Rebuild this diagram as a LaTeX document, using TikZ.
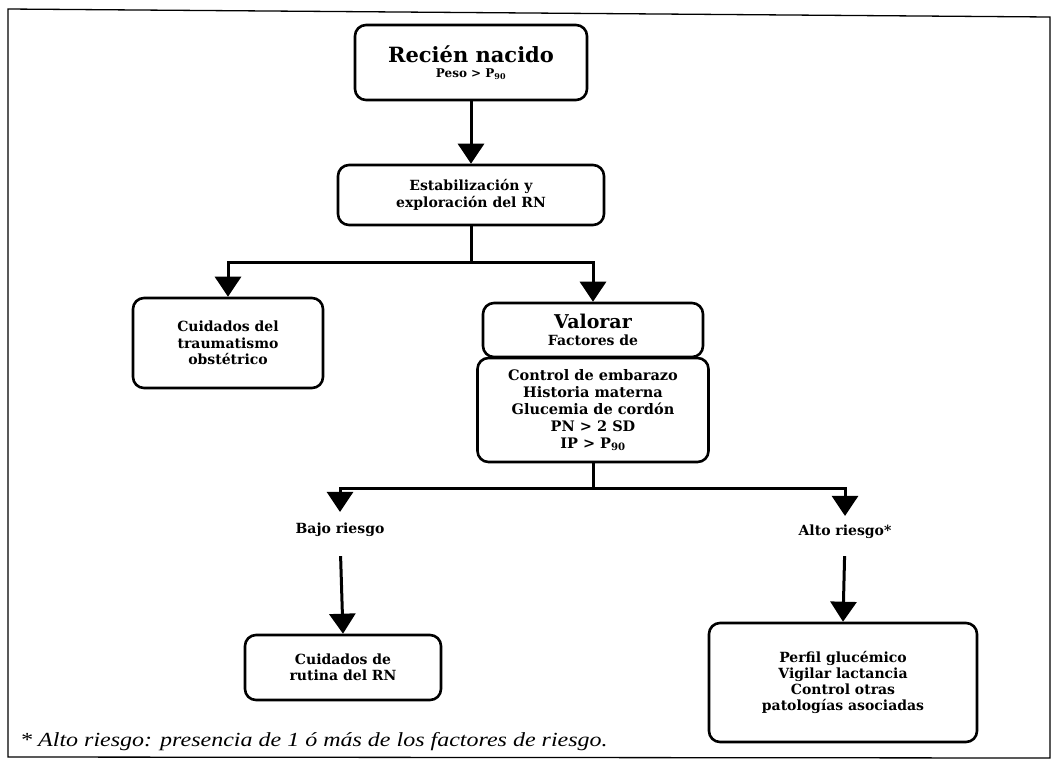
\documentclass[tikz,border=0pt]{standalone}
\usepackage{fontspec}
\setmainfont{DejaVu Serif}
\newfontfamily\notefont[FakeStretch=1.2]{Liberation Serif}
\usetikzlibrary{arrows.meta}
\begin{document}
\begin{tikzpicture}[x=1pt,y=-1pt,
  box/.style={draw,line width=2.6pt,rounded corners=11pt,align=center,
    font=\bfseries\fontsize{14}{16.5}\selectfont,inner sep=0pt},
  conn/.style={line width=3pt},
  arr/.style={line width=3pt,-{Triangle[width=26pt,length=20pt]}},
  lbl/.style={font=\bfseries\fontsize{14}{16}\selectfont,inner sep=0pt},
  frame/.style={line width=1.3pt}]
\useasboundingbox (0,0) rectangle (1052,764);

% outer frame
\draw[frame] (8,757) -- (8,9) -- (1050,17) -- (1050,758) -- cycle;

% boxes of the flow chart
\node[box,minimum width=232pt,minimum height=75pt] (rn) at (471,62.5)
  {{\fontsize{21}{24}\selectfont Recién nacido}\\[-1pt]{\fontsize{12}{14}\selectfont Peso > P\textsubscript{90}}};
\node[box,minimum width=266pt,minimum height=60pt] (est) at (471,195)
  {Estabilización y\\exploración del RN};
\node[box,minimum width=190pt,minimum height=90pt] (cto) at (228,343)
  {Cuidados del\\traumatismo\\obstétrico};
\node[box,minimum width=220pt,minimum height=54pt] (val) at (593,330)
  {{\fontsize{19}{21}\selectfont Valorar}\\Factores de};
\node[box,minimum width=231pt,minimum height=104pt,font=\bfseries\fontsize{14.5}{17}\selectfont] (fac) at (593,410)
  {Control de embarazo\\Historia materna\\Glucemia de cordón\\PN > 2 SD\\IP > P\textsubscript{90}};
\node[lbl] (bajo) at (340,530) {Bajo riesgo};
\node[lbl] (alto) at (845,532) {Alto riesgo*};
\node[box,minimum width=196pt,minimum height=65pt] (rut) at (343,667.5)
  {Cuidados de\\rutina del RN};
\node[box,minimum width=268pt,minimum height=119pt,font=\bfseries\fontsize{14}{16}\selectfont] (pg) at (843,682.5)
  {Perfil glucémico\\Vigilar lactancia\\Control otras\\patologías asociadas};

% footnote
\node[anchor=base west,inner sep=0pt,font=\notefont\itshape\fontsize{20}{22}\selectfont] (nota) at (20,746)
  {* Alto riesgo: presencia de 1 ó más de los factores de riesgo.};

% connectors
\coordinate (j1) at (471,262);
\coordinate (j2) at (593,488);
\draw[arr] (rn) -- (est);
\draw[conn] (est.south) -- (j1);
\draw[arr] (j1) -| (cto.north);
\draw[arr] (j1) -| (val.north);
\draw[conn] (fac.south) -- (j2);
\draw[arr,shorten >=11pt] (j2) -| (bajo.north);
\draw[arr,shorten >=9pt] (j2) -| (alto.north);
\draw[arr,shorten <=19pt] (bajo.south) -- (rut.north);
\draw[arr,shorten <=17pt] (alto.south) -- (pg.north);
\end{tikzpicture}
\end{document}
